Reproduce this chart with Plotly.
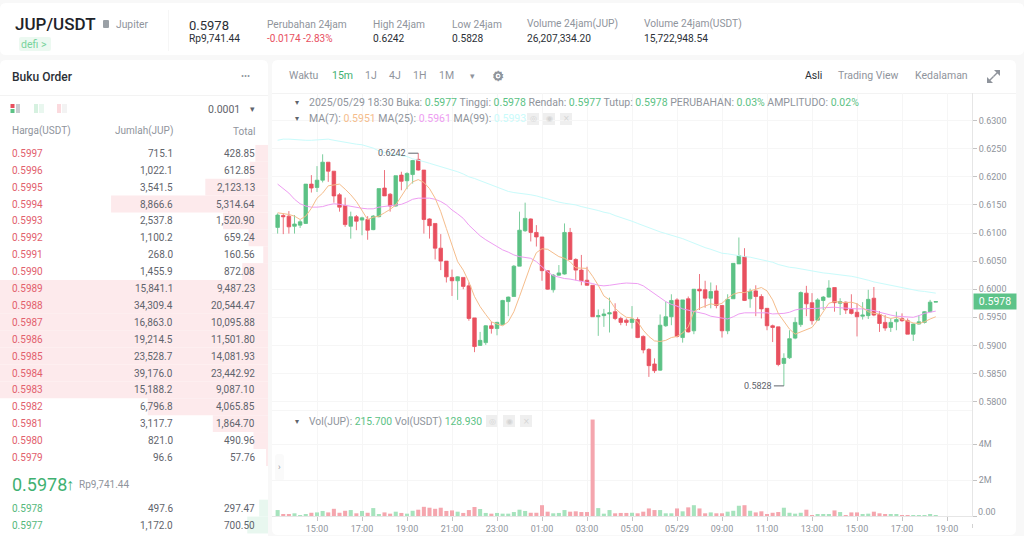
import pandas as pd
import plotly.graph_objects as go

W, H = 1024, 536

# candles, in units of 0.0001 USDT
opens = [6110,6131,6130,6112,6114,6117,6187,6181,6194,6226,
         6210,6168,6149,6112,6129,6123,6124,6106,6129,6180,
         6169,6148,6203,6193,6204,6231,6212,6125,6117,6073,
         6050,6021,6015,6021,6006,5949,5900,5905,5935,5930,
         5937,5978,5987,6041,6104,6125,6101,6093,6033,5999,
         6025,6027,6101,6053,6034,6016,6007,5951,5953,5956,
         5960,5948,5945,5941,5946,5916,5893,5867,5856,5935,
         5951,5981,5914,5983,5926,6000,5999,5984,5997,5971,
         5926,5983,6045,6058,5983,5997,5987,5966,5935,5933,
         5868,5878,5913,5937,5993,5976,5945,5980,5986,6003,
         5975,5977,5964,5959,5952,5953,5984,5955,5941,5932,
         5942,5948,5944,5920,5938,5941,5960,5977]
highs = [6135,6135,6139,6132,6123,6187,6203,6219,6240,6226,
         6210,6171,6163,6138,6132,6129,6130,6132,6179,6212,
         6171,6202,6209,6208,6230,6242,6212,6126,6117,6098,
         6050,6035,6023,6021,6012,5949,5924,5936,5942,5942,
         5981,5987,6043,6138,6154,6126,6114,6093,6033,6027,
         6043,6117,6109,6055,6061,6040,6007,5964,5965,5985,
         5975,5951,5948,5970,5950,5918,5895,5877,5955,5978,
         5991,5984,5981,5987,6000,6027,6015,6012,6007,5972,
         5991,6046,6092,6073,6001,6007,5991,5966,5937,5933,
         5886,5927,5950,5996,6006,5993,5984,5988,6016,6003,
         5984,5978,5991,5975,5977,5999,6004,5961,5954,5948,
         5960,5957,5948,5939,5954,5961,5981,5978]
lows = [6099,6098,6099,6099,6109,6116,6172,6173,6190,6191,
        6154,6138,6111,6090,6105,6096,6088,6105,6128,6166,
        6138,6147,6176,6178,6188,6211,6099,6090,6053,6034,
        6012,5988,5981,6000,5944,5888,5899,5901,5921,5918,
        5936,5952,5987,6041,6102,6085,6076,6015,5999,5994,
        6024,6026,6052,6016,6007,6006,5951,5917,5933,5923,
        5945,5936,5935,5930,5913,5886,5844,5851,5855,5933,
        5936,5914,5905,5923,5920,5963,5967,5966,5966,5914,
        5920,5983,6045,5979,5967,5952,5948,5927,5906,5863,
        5828,5876,5911,5933,5952,5937,5944,5963,5985,5960,
        5954,5956,5955,5916,5946,5947,5952,5924,5926,5924,
        5927,5942,5920,5908,5937,5939,5959,5977]
closes = [6132,6129,6111,6116,6120,6187,6180,6194,6226,6210,
          6166,6146,6115,6129,6121,6127,6105,6130,6179,6166,
          6148,6202,6192,6206,6229,6212,6124,6113,6073,6050,
          6022,6015,6022,6005,5948,5898,5909,5935,5930,5941,
          5980,5986,6041,6105,6126,6101,6093,6033,6000,6025,
          6029,6101,6053,6034,6015,6007,5951,5953,5956,5958,
          5948,5941,5941,5947,5914,5892,5864,5855,5936,5951,
          5980,5916,5981,5924,6000,5997,5984,5996,5971,5926,
          5982,6046,6060,5980,5996,5987,5965,5935,5932,5866,
          5877,5912,5941,5994,5974,5944,5981,5986,6002,5976,
          5978,5963,5957,5951,5954,5982,5954,5939,5931,5941,
          5946,5944,5920,5938,5942,5960,5977,5978]

ma7 = [6136,6135,6133,6130,6124,6130,6144,6162,6171,6184,
       6185,6187,6178,6168,6156,6141,6124,6128,6130,6136,
       6142,6150,6165,6181,6191,6195,6190,6179,6162,6138,
       6108,6079,6049,6034,6013,5987,5969,5955,5942,5938,
       5935,5942,5960,5987,6016,6043,6065,6072,6071,6065,
       6058,6055,6049,6038,6038,6037,6023,6007,5988,5981,
       5966,5957,5950,5949,5942,5927,5916,5908,5907,5909,
       5914,5916,5922,5933,5960,5966,5970,5974,5972,5975,
       5984,5991,5994,5994,5997,6000,6003,5997,5981,5957,
       5942,5929,5920,5924,5929,5932,5945,5960,5975,5978,
       5977,5976,5977,5974,5967,5960,5957,5956,5951,5948,
       5950,5947,5944,5940,5939,5942,5947,5951]
ma25 = [6187,6179,6171,6160,6152,6148,6146,6146,6147,6150,
        6152,6151,6149,6148,6146,6144,6143,6143,6146,6147,
        6148,6149,6151,6155,6160,6162,6162,6162,6160,6156,
        6150,6141,6134,6126,6114,6104,6095,6088,6082,6076,
        6070,6066,6061,6058,6057,6055,6049,6040,6031,6024,
        6021,6019,6018,6016,6015,6013,6010,6007,6006,6007,
        6009,6010,6011,6011,6010,6006,5999,5993,5985,5978,
        5973,5970,5965,5963,5961,5959,5956,5952,5950,5948,
        5947,5951,5956,5958,5958,5958,5959,5958,5956,5956,
        5957,5959,5963,5965,5965,5965,5966,5967,5968,5968,
        5967,5966,5965,5965,5965,5964,5962,5959,5956,5954,
        5952,5951,5950,5950,5953,5957,5959,5961]
ma99 = [6265,6267,6267,6266,6266,6265,6265,6266,6266,6267,
        6265,6263,6261,6259,6258,6257,6254,6251,6246,6243,
        6241,6239,6237,6236,6232,6230,6227,6224,6221,6219,
        6215,6212,6209,6205,6200,6197,6193,6189,6185,6181,
        6178,6174,6172,6171,6169,6168,6166,6163,6160,6157,
        6155,6153,6152,6150,6147,6145,6143,6140,6137,6135,
        6131,6128,6124,6121,6117,6113,6109,6106,6102,6099,
        6096,6094,6090,6086,6082,6077,6074,6071,6067,6064,
        6063,6061,6060,6058,6057,6055,6053,6051,6048,6044,
        6041,6039,6038,6036,6034,6032,6031,6029,6028,6027,
        6025,6024,6023,6021,6019,6016,6013,6011,6009,6007,
        6004,6002,6000,5999,5997,5996,5994,5993]

# volume in millions of JUP
volumes = [.33,.09,.09,.15,.05,.1,.18,.2,.28,.2,
           .4,.18,.29,.33,.15,.28,.18,.44,.09,.2,
           .13,.24,.17,.13,.29,.35,.51,.46,.4,.46,
           .28,.31,.24,.17,.33,.5,.39,.17,.13,.17,
           .13,.13,.22,.35,.28,.18,.18,.6,.24,.15,
           .17,.33,.24,.26,.22,.22,5.36,.44,.13,.33,
           .15,.17,.17,.18,.15,.24,.42,.33,.33,.15,
           .15,.42,.26,.48,.6,.42,.15,.2,.15,.15,
           .24,.29,.57,.6,.29,.2,.26,.11,.18,.22,
           .46,.18,.13,.18,.35,.05,.09,.09,.07,.31,
           .22,.05,.2,.2,.07,.13,.24,.15,.11,.11,
           .07,.05,.05,.05,.05,.05,.11,.04]

price_ticks = [0.58, 0.585, 0.59, 0.595, 0.60, 0.605, 0.61, 0.615, 0.62, 0.625, 0.63]
tick_times = ["2025-05-28 15:00", "2025-05-28 17:00", "2025-05-28 19:00", "2025-05-28 21:00",
              "2025-05-28 23:00", "2025-05-29 01:00", "2025-05-29 03:00", "2025-05-29 05:00",
              "2025-05-29 07:00", "2025-05-29 09:00", "2025-05-29 11:00", "2025-05-29 13:00",
              "2025-05-29 15:00", "2025-05-29 17:00", "2025-05-29 19:00"]
tick_labels = ["15:00", "17:00", "19:00", "21:00", "23:00", "01:00", "03:00", "05:00",
               "05/29", "09:00", "11:00", "13:00", "15:00", "17:00", "19:00"]

# order book
sell_prices = ["0.5997", "0.5996", "0.5995", "0.5994", "0.5993", "0.5992", "0.5991", "0.5990", "0.5989",
               "0.5988", "0.5987", "0.5986", "0.5985", "0.5984", "0.5983", "0.5982", "0.5981", "0.5980", "0.5979"]
sell_amounts = [715.1, 1022.1, 3541.5, 8866.6, 2537.8, 1100.2, 268.0, 1455.9, 15841.1,
                34309.4, 16863.0, 19214.5, 23528.7, 39176.0, 15188.2, 6796.8, 3117.7, 821.0, 96.6]
sell_totals = ["428.85", "612.85", "2,123.13", "5,314.64", "1,520.90", "659.24", "160.56", "872.08", "9,487.23",
               "20,544.47", "10,095.88", "11,501.80", "14,081.93", "23,442.92", "9,087.10", "4,065.85",
               "1,864.70", "490.96", "57.76"]
buy_prices = ["0.5978", "0.5977"]
buy_amounts = [497.6, 1172.0]
buy_totals = ["297.47", "700.50"]

GREEN = "#5cc285"
RED = "#e8505f"
GRAY = "#8f949c"
DARK = "#2b2f36"
TEXT = "#5f646c"
FONT = "Roboto"

times = pd.date_range("2025-05-28 13:15", periods=len(opens), freq="15min")


def scaled(values):
    return [v / 10000 for v in values]


annotations = []
shapes = []


def label(x, y, text, size=10.5, color=GRAY, anchor="left", family=FONT, weight="normal"):
    annotations.append(dict(xref="paper", yref="paper", x=x / W, y=1 - y / H, text=text, showarrow=False,
                            xanchor=anchor, yanchor="middle", borderpad=0, borderwidth=0,
                            font=dict(size=size, color=color, family=family, weight=weight)))


def box(x0, y0, x1, y1, color, radius=0):
    x0, x1 = x0 / W, x1 / W
    y0, y1 = 1 - y0 / H, 1 - y1 / H
    if radius:
        rx, ry = radius / W, radius / H
        path = (f"M {x0 + rx} {y0} L {x1 - rx} {y0} Q {x1} {y0} {x1} {y0 - ry} L {x1} {y1 + ry} "
                f"Q {x1} {y1} {x1 - rx} {y1} L {x0 + rx} {y1} Q {x0} {y1} {x0} {y1 + ry} "
                f"L {x0} {y0 - ry} Q {x0} {y0} {x0 + rx} {y0} Z")
        shapes.append(dict(type="path", path=path, xref="paper", yref="paper", fillcolor=color,
                           line=dict(width=0), layer="below"))
    else:
        shapes.append(dict(type="rect", xref="paper", yref="paper", x0=x0, x1=x1, y0=y0, y1=y1,
                           fillcolor=color, line=dict(width=0), layer="below"))


def glyph(points, color, width=0, closed=True):
    # small icon drawn from page pixels
    path = "M " + " L ".join(f"{x / W} {1 - y / H}" for x, y in points) + (" Z" if closed else "")
    shapes.append(dict(type="path", path=path, xref="paper", yref="paper", layer="below",
                       fillcolor=color if closed else "rgba(0,0,0,0)", line=dict(color=color, width=width)))


def span(text, color):
    return f'<span style="color:{color}">{text}</span>'


# cards
box(0, 3, 1024, 55, "white", 6)
box(0, 60, 268, 540, "white", 6)
box(272, 60, 1016, 535, "white", 6)
box(0, 95, 268, 96, "#f3f3f3")
box(272, 93, 1016, 94, "#f3f3f3")
box(168, 10, 168.6, 51, "#f0f0f0")

# header
label(15, 24, "JUP/USDT", 17, "#1e2329", weight=500)
box(103, 20, 109, 28, "#9aa0a6", 1)
label(116, 24, "Jupiter", 10.3)
box(19, 37, 51, 51, "#ecf9f1", 2)
label(21, 44, "defi &gt;", 10.5, "#78d39c")
label(189, 25, "0.5978", 13, DARK)
label(189, 39, "Rp9,741.44", 10.2, DARK)
label(267, 24, "Perubahan 24jam", 10.2)
label(267, 39, "-0.0174 -2.83%", 10, RED)
label(373, 24, "High 24jam", 10.2)
label(373, 39, "0.6242", 10.2, DARK)
label(452, 24, "Low 24jam", 10.2)
label(452, 39, "0.5828", 10.2, DARK)
label(527, 24, "Volume 24jam(JUP)", 10.2)
label(527, 39, "26,207,334.20", 10.2, DARK)
label(644, 24, "Volume 24jam(USDT)", 10.2)
label(644, 39, "15,722,948.54", 10.2, DARK)

# order book heading
label(12, 77, "Buku Order", 12, DARK, weight=500)
label(245, 76, "•••", 9, GRAY, "center")
box(10.5, 104, 14.5, 108, RED)
box(10.5, 109, 14.5, 113, GREEN)
box(16, 104, 20, 113, "#c9ccd1")
box(34, 104, 38, 113, "#d6f1e0")
box(39, 104, 44, 113, "#e9f7ef")
box(57, 104, 61, 113, "#fbdade")
box(62, 104, 67, 113, "#f3f3f3")
label(240, 109, "0.0001", 10.5, TEXT, "right")
label(252, 109, "▾", 9, TEXT, "center")
label(12, 131, "Harga(USDT)", 10, GRAY)
label(173, 131, "Jumlah(JUP)", 10, GRAY, "right")
label(255, 131, "Total", 10, GRAY, "right")

ROW0, ROW_H = 153.3, 16.9
sell_rows = list(range(len(sell_prices)))
buy_rows = [21, 22]
for rows, prices, amounts, totals, color in [(sell_rows, sell_prices, sell_amounts, sell_totals, "#e2606d"),
                                             (buy_rows, buy_prices, buy_amounts, buy_totals, "#55b87c")]:
    for row, price, amount, total in zip(rows, prices, amounts, totals):
        y = ROW0 + row * ROW_H
        label(12, y, price, 10, color)
        label(173, y, f"{amount:,.1f}", 10, TEXT, "right")
        label(255, y, total, 10, TEXT, "right")
label(12, 484, "0.5978", 18, "#3fb171")
label(66, 484, "↑", 16, "#3fb171")
label(79, 484, "Rp9,741.44", 10, GRAY)

# chart toolbar
label(289, 76, "Waktu", 10.5)
label(332, 76, "15m", 10.5, "#3fb171")
label(365, 76, "1J", 10.5)
label(389, 76, "4J", 10.5)
label(413, 76, "1H", 10.5)
label(439, 76, "1M", 10.5)
label(472, 76, "▾", 9, GRAY, "center")
label(498, 76, "⚙", 14, GRAY, "center", "DejaVu Sans")
shapes.append(dict(type="circle", xref="paper", yref="paper", x0=494.5 / W, x1=501.5 / W, y0=1 - 72.5 / H, y1=1 - 79.5 / H,
                   line=dict(color=GRAY, width=2), fillcolor="rgba(0,0,0,0)", layer="below"))
label(805, 76, "Asli", 10.5, DARK)
label(838, 76, "Trading View", 10.5)
label(915, 76, "Kedalaman", 10.5)
glyph([(1000, 70), (994, 70), (1000, 76)], GRAY)
glyph([(987, 83), (993, 83), (987, 77)], GRAY)
glyph([(997.5, 72.5), (993.5, 76.5)], GRAY, 1.5, closed=False)
glyph([(989.5, 80.5), (993.5, 76.5)], GRAY, 1.5, closed=False)

# legends
label(297, 103, "▾", 8, TEXT, "center")
label(309, 103, "2025/05/29 18:30 Buka: " + span("0.5977", GREEN) + " Tinggi: " + span("0.5978", GREEN)
      + " Rendah: " + span("0.5977", GREEN) + " Tutup: " + span("0.5978", GREEN)
      + " PERUBAHAN: " + span("0.03%", GREEN) + " AMPLITUDO: " + span("0.02%", GREEN), 10.5)
label(297, 118, "▾", 8, TEXT, "center")
label(309, 118, "MA(7): " + span("0.5951", "#f5bd8c") + " MA(25): " + span("0.5961", "#ee9df2")
      + " MA(99): " + span("0.5993", "#c9fbfb"), 10.5)
label(297, 421, "▾", 8, TEXT, "center")
label(309, 421, "Vol(JUP): " + span("215.700", GREEN) + " Vol(USDT) " + span("128.930", GREEN), 10.3)
for x0, mark in zip([527, 543, 560], ["◎", "◉", "×"]):
    box(x0, 113, x0 + 12, 125, "#efefef")
    label(x0 + 6, 119, mark, 8, "#d4d4d4", "center", "DejaVu Sans")
for x0, mark in zip([486, 503, 520], ["◎", "◉", "×"]):
    box(x0, 415, x0 + 12, 427, "#efefef")
    label(x0 + 6, 421, mark, 8, "#d4d4d4", "center", "DejaVu Sans")
box(275, 454, 284, 481, "#fafafa", 3)
label(279.5, 467, "›", 9, GRAY, "center")
label(978, 512, "0.00", 9, GRAY)
box(972.4, 524, 973, 528, "#b5b5b5")

fig = go.Figure()

fig.add_trace(go.Bar(y=sell_rows, x=sell_amounts, orientation="h", width=1, marker=dict(color="#fdeaec", line=dict(width=0)),
                     xaxis="x3", yaxis="y3", hoverinfo="skip"))
fig.add_trace(go.Bar(y=buy_rows, x=buy_amounts, orientation="h", width=1, marker=dict(color="#e8f7ef", line=dict(width=0)),
                     xaxis="x3", yaxis="y3", hoverinfo="skip"))

fig.add_trace(go.Candlestick(x=times, open=scaled(opens), high=scaled(highs), low=scaled(lows), close=scaled(closes),
                             increasing=dict(line=dict(color=GREEN, width=0.8), fillcolor=GREEN),
                             decreasing=dict(line=dict(color=RED, width=0.8), fillcolor=RED),
                             whiskerwidth=0, xaxis="x", yaxis="y", hoverinfo="skip"))
for values, color in [(ma99, "#c9fbfb"), (ma25, "#ee9df2"), (ma7, "#f5bd8c")]:
    fig.add_trace(go.Scatter(x=times, y=scaled(values), mode="lines", line=dict(color=color, width=1),
                             xaxis="x", yaxis="y", hoverinfo="skip"))

volume_colors = ["#a6e3bd" if c >= o else "#f5a6ae" for o, c in zip(opens, closes)]
fig.add_trace(go.Bar(x=times, y=volumes, marker=dict(color=volume_colors, line=dict(width=0)),
                     width=15 * 60 * 1000 * 0.72, xaxis="x2", yaxis="y2", hoverinfo="skip"))

# price markers on the chart
for value, idx, text in [(max(highs), highs.index(max(highs)), "0.6242"), (min(lows), lows.index(min(lows)), "0.5828")]:
    annotations.append(dict(xref="x", yref="y", x=times[idx], y=value / 10000, text=text,
                            showarrow=True, arrowhead=0, arrowwidth=1, arrowcolor="#5f646c", ax=-10, ay=0, standoff=0,
                            xanchor="right", font=dict(size=9, color=TEXT, family=FONT)))
annotations.append(dict(xref="paper", yref="y", x=972.7 / W, y=closes[-1] / 10000, text="0.5978", showarrow=False,
                        xanchor="left", width=42, height=15, align="center", bgcolor="#5dc389", borderpad=0,
                        font=dict(size=10.5, color="white", family=FONT)))

grid = "#f6f6f6"
axis_line = "#e6e6e6"
tick_font = dict(size=9, color=GRAY, family=FONT)
plot_x = [272 / W, 972 / W]
x_range = ["2025-05-28 13:00", "2025-05-29 20:06:40"]

fig.update_layout(
    width=W, height=H, margin=dict(l=0, r=0, t=0, b=0), autosize=False, showlegend=False,
    paper_bgcolor="#f8f8f8", plot_bgcolor="rgba(0,0,0,0)", barmode="overlay", hovermode=False, boxgap=0.1,
    annotations=annotations, shapes=shapes,
    xaxis=dict(domain=plot_x, type="date", range=x_range, anchor="y", rangeslider=dict(visible=False),
               tickmode="array", tickvals=tick_times, showticklabels=False, ticks="", showgrid=True,
               gridcolor=grid, gridwidth=1, showline=True, linecolor=grid, zeroline=False),
    yaxis=dict(domain=[1 - 410 / H, 1 - 93 / H], range=[0.57851, 0.63491], anchor="x", side="right",
               tickmode="array", tickvals=price_ticks, tickformat=".4f", ticks="outside", ticklen=4,
               tickcolor="#c4c4c4", tickfont=tick_font, showgrid=True, gridcolor=grid, gridwidth=1,
               showline=True, linecolor=axis_line, zeroline=False),
    xaxis2=dict(domain=plot_x, type="date", range=x_range, anchor="y2", tickmode="array", tickvals=tick_times,
                ticktext=tick_labels, ticks="outside", ticklen=4, tickcolor="#c4c4c4", tickfont=tick_font,
                tickangle=0, showgrid=True, gridcolor=grid, gridwidth=1, showline=True, linecolor=axis_line,
                zeroline=False),
    yaxis2=dict(domain=[1 - 516 / H, 1 - 410 / H], range=[0, 5.89], anchor="x2", side="right", tickmode="array",
                tickvals=[0, 2, 4], ticktext=["", "2M", "4M"], ticks="outside", ticklen=4, tickcolor="#c4c4c4",
                tickfont=tick_font, showgrid=True, gridcolor=grid, gridwidth=1, showline=True, linecolor=axis_line,
                zeroline=False),
    xaxis3=dict(domain=[0, 268 / W], range=[15141, 0], anchor="y3", visible=False),
    yaxis3=dict(domain=[0, 1 - 144.85 / H], range=[22.65, -0.5], anchor="x3", visible=False),
)

fig.write_html("out.html", config=dict(displayModeBar=False),
               post_script="document.body.style.margin='0';document.body.style.overflow='hidden';")
